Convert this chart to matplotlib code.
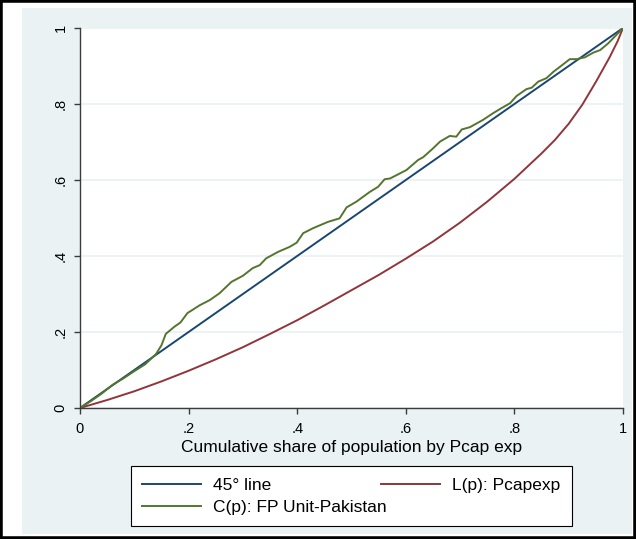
import matplotlib
matplotlib.use("Agg")
import matplotlib.pyplot as plt
from matplotlib.patches import Rectangle

# Lorenz curve of per-capita expenditure
lorenz_p = [0, 0.05, 0.1, 0.15, 0.2, 0.25, 0.3, 0.35, 0.4, 0.45, 0.5, 0.55,
            0.6, 0.65, 0.7, 0.75, 0.8, 0.85, 0.875, 0.9, 0.925, 0.95, 0.975,
            0.99, 1]
lorenz_l = [0, 0.021, 0.044, 0.07, 0.098, 0.128, 0.16, 0.195, 0.231, 0.27,
            0.31, 0.35, 0.393, 0.438, 0.488, 0.543, 0.603, 0.67, 0.706,
            0.748, 0.798, 0.858, 0.922, 0.965, 1]

# concentration curve, FP Unit-Pakistan
conc_p = [0, 0.02, 0.04, 0.06, 0.08, 0.10, 0.12, 0.14, 0.15, 0.158, 0.174,
          0.185, 0.198, 0.207, 0.22, 0.239, 0.257, 0.279, 0.30, 0.318, 0.331,
          0.343, 0.365, 0.386, 0.399, 0.411, 0.429, 0.457, 0.478, 0.491,
          0.509, 0.534, 0.549, 0.561, 0.571, 0.601, 0.623, 0.632, 0.65,
          0.663, 0.681, 0.693, 0.703, 0.718, 0.742, 0.761, 0.776, 0.792,
          0.804, 0.822, 0.832, 0.844, 0.859, 0.872, 0.884, 0.902, 0.915,
          0.93, 0.945, 0.958, 0.973, 0.99, 1]
conc_c = [0, 0.018, 0.038, 0.061, 0.078, 0.097, 0.115, 0.142, 0.165, 0.195,
          0.214, 0.225, 0.25, 0.258, 0.270, 0.284, 0.302, 0.332, 0.348,
          0.368, 0.376, 0.394, 0.411, 0.424, 0.435, 0.46, 0.473, 0.49, 0.499,
          0.528, 0.543, 0.569, 0.582, 0.602, 0.604, 0.626, 0.653, 0.66,
          0.683, 0.701, 0.716, 0.714, 0.733, 0.739, 0.758, 0.776, 0.789,
          0.802, 0.821, 0.839, 0.843, 0.859, 0.868, 0.885, 0.898, 0.918,
          0.918, 0.923, 0.935, 0.942, 0.96, 0.985, 1]

diag = [0, 1]
tick_vals = [0, 0.2, 0.4, 0.6, 0.8, 1]
tick_labels = ["0", ".2", ".4", ".6", ".8", "1"]

FONT = ["Liberation Sans Narrow", "Liberation Sans", "DejaVu Sans"]
plt.rcParams["font.family"] = FONT

W, H = 636, 539
fig = plt.figure(figsize=(W / 100, H / 100), dpi=100)
fig.patch.set_facecolor("white")

# stata-like graph region and outer frame
fig.patches.append(Rectangle((22 / W, 1 - 534 / H), 610 / W, 526 / H,
                             transform=fig.transFigure, facecolor="#eaf2f3",
                             edgecolor="none", zorder=-5))
fig.patches.append(Rectangle((0, 0), 1, 1, transform=fig.transFigure,
                             fill=False, edgecolor="black", lw=4, zorder=10))

ax = fig.add_axes([80 / W, 1 - 408 / H, 543 / W, 380 / H])
ax.set_facecolor("white")

l1, = ax.plot(diag, diag, color="#1a476f", lw=1.4)
l2, = ax.plot(lorenz_p, lorenz_l, color="#90353b", lw=1.4)
l3, = ax.plot(conc_p, conc_c, color="#55752f", lw=1.4)

ax.set_xlim(0, 1)
ax.set_ylim(0, 1)
ax.set_xticks(tick_vals)
ax.set_xticklabels(tick_labels)
ax.set_yticks(tick_vals)
ax.set_yticklabels(tick_labels, rotation=90, va="center")
ax.tick_params(axis="both", direction="out", length=4, width=1,
               color="#3c3c3c", labelsize=10.5)
ax.tick_params(axis="x", pad=6)
ax.tick_params(axis="y", pad=5)

ax.yaxis.grid(True, color="#eaf2f3", lw=1.3)
ax.set_axisbelow(True)
for s in ["top", "right"]:
    ax.spines[s].set_visible(False)
for s in ["left", "bottom"]:
    ax.spines[s].set_color("#3c3c3c")
    ax.spines[s].set_linewidth(1)

ax.set_xlabel("Cumulative share of population by Pcap exp", fontsize=12.5,
              labelpad=3)

leg = fig.legend([l1, l3, l2],
                 ["45° line", "C(p): FP Unit-Pakistan", "L(p): Pcapexp"],
                 ncol=2, mode="expand", loc="lower left",
                 bbox_to_anchor=(131 / W, 1 - 526 / H, 441 / W, 62 / H),
                 fontsize=12.5, frameon=True, fancybox=False, framealpha=1,
                 handlelength=3.4, handletextpad=0.7, labelspacing=0.4,
                 borderpad=0.65, borderaxespad=0)
leg.get_frame().set_edgecolor("black")
leg.get_frame().set_linewidth(0.8)

fig.savefig("out.png", dpi=100)
